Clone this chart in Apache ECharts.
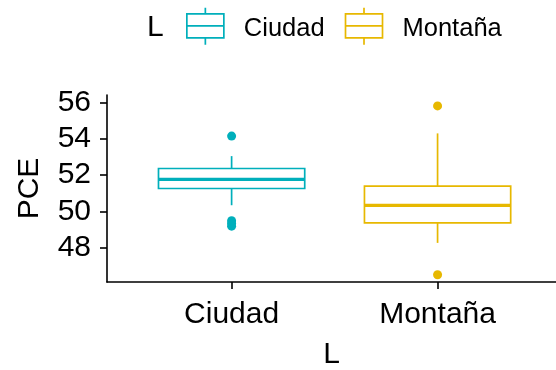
<!DOCTYPE html>
<html>
<head>
<meta charset="utf-8">
<script src="https://cdn.jsdelivr.net/npm/echarts@6/dist/echarts.min.js"></script>
<style>html,body{margin:0;padding:0;background:#fff;}#c{width:556px;height:370px;}</style>
</head>
<body>
<div id="c"></div>
<script>
// ---- data ----
const categories = ['Ciudad', 'Montaña'];
const categoryPos = [1, 2];
// [lower whisker, Q1, median, Q3, upper whisker]
const boxCiudad = [50.35, 51.27, 51.77, 52.37, 53.05];
const boxMontana = [48.28, 49.38, 50.34, 51.40, 54.30];
const outliersCiudad = [54.15, 49.5, 49.35, 49.2];
const outliersMontana = [55.81, 46.53];
const yTicks = [48, 50, 52, 54, 56];
const colors = ['#00AFBB', '#E7B800'];

const FONT = 'Liberation Sans, Arial, sans-serif';
const BOX_HALF = 0.355;

function renderBox(params, api) {
  const x = api.value(0);
  const lo = api.value(1), q1 = api.value(2), med = api.value(3), q3 = api.value(4), hi = api.value(5);
  const tl = api.coord([x - BOX_HALF, q3]);
  const br = api.coord([x + BOX_HALF, q1]);
  const mL = api.coord([x - BOX_HALF, med]);
  const mR = api.coord([x + BOX_HALF, med]);
  const pHi = api.coord([x, hi]), pQ3 = api.coord([x, q3]);
  const pQ1 = api.coord([x, q1]), pLo = api.coord([x, lo]);
  const color = api.visual('color');
  return {
    type: 'group',
    children: [
      {type: 'line', shape: {x1: pHi[0], y1: pHi[1], x2: pQ3[0], y2: pQ3[1]}, style: {stroke: color, lineWidth: 1.7}},
      {type: 'line', shape: {x1: pQ1[0], y1: pQ1[1], x2: pLo[0], y2: pLo[1]}, style: {stroke: color, lineWidth: 1.7}},
      {type: 'rect', shape: {x: tl[0], y: tl[1], width: br[0] - tl[0], height: br[1] - tl[1]}, style: {fill: '#fff', stroke: color, lineWidth: 1.7}},
      {type: 'line', shape: {x1: mL[0], y1: mL[1], x2: mR[0], y2: mR[1]}, style: {stroke: color, lineWidth: 3.2}}
    ]
  };
}

const ICON = 'path://M0,6 L37,6 L37,30 L0,30 Z M0,18 L37,18 M18.5,0 L18.5,6 M18.5,30 L18.5,37';

const chart = echarts.init(document.getElementById('c'), null, {renderer: 'canvas'});
chart.setOption({
  animation: false,
  backgroundColor: '#fff',
  textStyle: {fontFamily: FONT},
  title: {
    text: 'L', left: 147, top: 13, padding: 0,
    textStyle: {fontFamily: FONT, fontSize: 30, fontWeight: 'normal', color: '#000'}
  },
  legend: {
    left: 186, top: 7, padding: 0,
    itemWidth: 37, itemHeight: 37, itemGap: 20,
    formatter: name => '{t|' + name + '}',
    textStyle: {
      fontFamily: FONT, fontSize: 25.5, color: '#000', padding: [0, 0, 0, 15],
      rich: {t: {fontFamily: FONT, fontSize: 25.5, color: '#000', padding: [6, 0, 0, 0]}}
    },
    data: categories.map((c, i) => ({
      name: c, icon: ICON,
      itemStyle: {color: 'rgba(0,0,0,0)', borderColor: colors[i], borderWidth: 1.7}
    }))
  },
  grid: {left: 107, right: 0, top: 95, bottom: 88, containLabel: false, outerBoundsMode: 'none'},
  xAxis: {
    type: 'value', min: 0.395, max: 2.575,
    name: 'L', nameLocation: 'middle', nameGap: 58,
    nameTextStyle: {fontFamily: FONT, fontSize: 30, color: '#000'},
    axisLine: {show: true, onZero: false, lineStyle: {color: '#000', width: 1.6}},
    axisTick: {show: true, length: 7, customValues: categoryPos, lineStyle: {color: '#000', width: 1.6}},
    axisLabel: {
      customValues: categoryPos, margin: 18,
      fontFamily: FONT, fontSize: 30, color: '#000',
      formatter: v => categories[Math.round(v) - 1]
    },
    splitLine: {show: false}
  },
  yAxis: {
    type: 'value', min: 46.13, max: 56.41,
    name: 'PCE', nameLocation: 'middle', nameGap: 62, nameRotate: 90,
    nameTextStyle: {fontFamily: FONT, fontSize: 30, color: '#000'},
    axisLine: {show: true, onZero: false, lineStyle: {color: '#000', width: 1.6}},
    axisTick: {show: true, length: 7, customValues: yTicks, lineStyle: {color: '#000', width: 1.6}},
    axisLabel: {customValues: yTicks, margin: 16, fontFamily: FONT, fontSize: 30, color: '#000'},
    splitLine: {show: false}
  },
  series: [
    {
      name: categories[0], type: 'custom', color: colors[0],
      renderItem: renderBox,
      encode: {x: 0, y: [1, 2, 3, 4, 5]},
      data: [[categoryPos[0]].concat(boxCiudad)], z: 2
    },
    {
      name: categories[1], type: 'custom', color: colors[1],
      renderItem: renderBox,
      encode: {x: 0, y: [1, 2, 3, 4, 5]},
      data: [[categoryPos[1]].concat(boxMontana)], z: 2
    },
    {
      name: categories[0], type: 'scatter', symbolSize: 9, color: colors[0],
      itemStyle: {color: colors[0], opacity: 1},
      data: outliersCiudad.map(v => [categoryPos[0], v]), z: 3
    },
    {
      name: categories[1], type: 'scatter', symbolSize: 9, color: colors[1],
      itemStyle: {color: colors[1], opacity: 1},
      data: outliersMontana.map(v => [categoryPos[1], v]), z: 3
    }
  ]
});
</script>
</body>
</html>
